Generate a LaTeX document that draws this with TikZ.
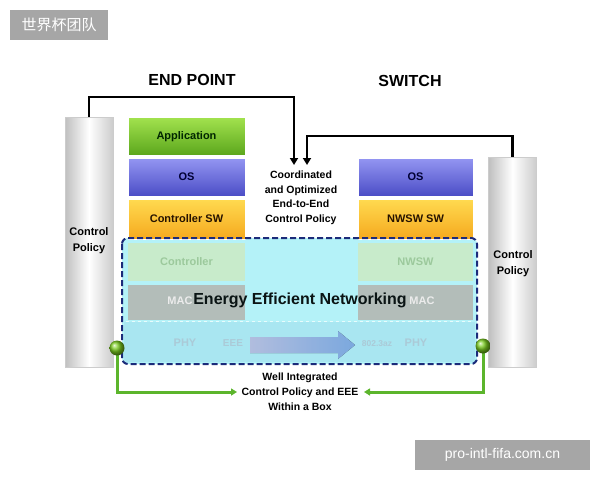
\documentclass[tikz,border=0pt]{standalone}
\usepackage{fontspec}
\setmainfont{Liberation Sans}
\newfontfamily\cjk{Noto Sans CJK SC}
\usetikzlibrary{arrows.meta,calc}
\definecolor{appT}{HTML}{A2E24E}
\definecolor{appB}{HTML}{5BA61C}
\definecolor{osT}{HTML}{9496F2}
\definecolor{osB}{HTML}{4B4DC6}
\definecolor{swT}{HTML}{FFDA50}
\definecolor{swB}{HTML}{F5A91E}
\definecolor{eecyan}{HTML}{B4F2F8}
\definecolor{ctlfade}{HTML}{C8EBCB}
\definecolor{macfade}{HTML}{B3BDB9}
\definecolor{phyrow}{HTML}{A9E6F1}
\definecolor{navy}{HTML}{1B2B7A}
\definecolor{gline}{HTML}{5CB52C}
\definecolor{wmgray}{HTML}{A6A6A6}
\definecolor{eetext}{HTML}{0A1414}
\begin{document}
\begin{tikzpicture}[x=1pt,y=-1pt,
  every node/.style={font=\bfseries\fontsize{11}{13}\selectfont},
  layer/.style={minimum width=117pt, inner sep=0pt, draw=white, line width=0.8pt},
  pillar/.style={draw=gray!40, line width=0.6pt, left color=gray!50, right color=gray!40, middle color=white, minimum width=48pt, inner sep=0pt},
  headtxt/.style={font=\bfseries\fontsize{16}{18}\selectfont},
  smalltxt/.style={font=\bfseries\fontsize{10.5}{14.5}\selectfont, align=center},
  fadetxt/.style={font=\bfseries\fontsize{11}{13}\selectfont},
  blackline/.style={line width=2.8pt, -{Triangle[length=7pt,width=8pt]}},
  greenline/.style={line width=3pt, draw=gline, -{Triangle[length=6pt,width=7pt]}},
  gdot/.style={circle, minimum size=15pt, inner sep=0pt, ball color=gline!70!lime},
  wmbox/.style={fill=wmgray, text=white, inner sep=0pt}
]
\useasboundingbox (0,0) rectangle (600,480);

% watermarks
\node[wmbox, minimum width=98pt, minimum height=30pt, font=\cjk\fontsize{15}{17}\selectfont] (wm1) at (59,25) {世界杯团队};
\node[wmbox, minimum width=175pt, minimum height=30pt, font=\mdseries\fontsize{14}{16}\selectfont] (wm2) at (502.5,455) {pro-intl-fifa.com.cn};

% headings
\node[headtxt] (hep) at (192,80) {END POINT};
\node[headtxt] (hsw) at (410,81) {SWITCH};

% pillars
\node[pillar, minimum height=250pt] (lp) at (89,242) {};
\node[pillar, minimum height=210pt] (rp) at (512.5,262) {};
\node[align=center, font=\bfseries\fontsize{11}{16}\selectfont] (lpt) at (89,241) {Control\\Policy};
\node[align=center, font=\bfseries\fontsize{11}{16}\selectfont] (rpt) at (513,264) {Control\\Policy};

% energy efficient region background
\fill[eecyan, rounded corners=6pt] (122,238) rectangle (477,364);
\fill[phyrow] (124,322) rectangle (475,362);

% left stack
\node[layer, minimum height=38pt, top color=appT, bottom color=appB, text=black!85!green] (app) at (186.5,136.5) {Application};
\node[layer, minimum height=38pt, top color=osT, bottom color=osB, text=black!80!blue] (los) at (186.5,177) {OS};
\node[layer, minimum height=40pt, top color=swT, bottom color=swB, text=black!85!orange] (lsw) at (186.5,219) {Controller SW};
\node[layer, draw=none, fill=ctlfade, minimum height=38pt, text=green!30!gray!60] (lctl) at (186.5,261.5) {Controller};
\node[layer, draw=none, fill=macfade, minimum height=35pt] (lmac) at (186.5,302.5) {};
\node[fadetxt, text=white!85!gray] (lmact) at (180,301) {MAC};

% right stack
\node[layer, minimum width=115pt, minimum height=38pt, top color=osT, bottom color=osB, text=black!80!blue] (ros) at (415.5,177) {OS};
\node[layer, minimum width=115pt, minimum height=40pt, top color=swT, bottom color=swB, text=black!85!orange] (rsw) at (415.5,219) {NWSW SW};
\node[layer, minimum width=115pt, draw=none, fill=ctlfade, minimum height=38pt, text=green!30!gray!60] (rctl) at (415.5,261.5) {NWSW};
\node[layer, minimum width=115pt, draw=none, fill=macfade, minimum height=35pt] (rmac) at (415.5,302.5) {};
\node[fadetxt, text=white!85!gray] (rmact) at (422,301) {MAC};

% faint separator
\draw[white, opacity=0.7, dashed, line width=0.8pt] (126,321) -- (473,321);

% PHY row content
\fill[left color=cyan!25!blue!20, right color=cyan!45!blue!45, opacity=0.85]
  (250,337) -- (338,337) -- (338,331) -- (355,345) -- (338,359) -- (338,353) -- (250,353) -- cycle;
\node[fadetxt, text=cyan!40!gray!55] (lphy) at (185,343) {PHY};
\node[fadetxt, text=cyan!40!gray!55, font=\bfseries\fontsize{10}{12}\selectfont] (leee) at (233,343) {EEE};
\node[fadetxt, text=cyan!40!gray!55, font=\bfseries\fontsize{8.5}{10}\selectfont] (r802) at (377,344) {802.3az};
\node[fadetxt, text=cyan!40!gray!55] (rphy) at (416,343) {PHY};

% dashed border
\draw[navy, line width=2pt, dash pattern=on 6pt off 3pt, rounded corners=6pt] (122,238) rectangle (477,364);

\node[font=\bfseries\fontsize{16}{18}\selectfont, text=eetext] (een) at (300,300) {Energy Efficient Networking};

% coordinated control policy
\coordinate (ta) at (294,97);
\coordinate (ca) at (294,165);
\coordinate (tb) at (307,136);
\coordinate (cb) at (307,165);
\draw[blackline] (lp.north) |- (ta) -- (ca);
\draw[blackline] (rp.north) |- (tb) -- (cb);
\node[smalltxt] (coord) at (301,198) {Coordinated\\and Optimized\\End-to-End\\Control Policy};

% well integrated
\coordinate (glc) at (117,348);
\coordinate (grc) at (483,346);
\coordinate (wl) at (237,392);
\coordinate (wr) at (364,392);
\draw[greenline] (glc) |- (wl);
\draw[greenline] (grc) |- (wr);
\node[gdot] (gl) at (glc) {};
\node[gdot] (gr) at (grc) {};
\node[smalltxt, font=\bfseries\fontsize{10.5}{15}\selectfont] (well) at (300,392) {Well Integrated\\Control Policy and EEE\\Within a Box};

\end{tikzpicture}
\end{document}
